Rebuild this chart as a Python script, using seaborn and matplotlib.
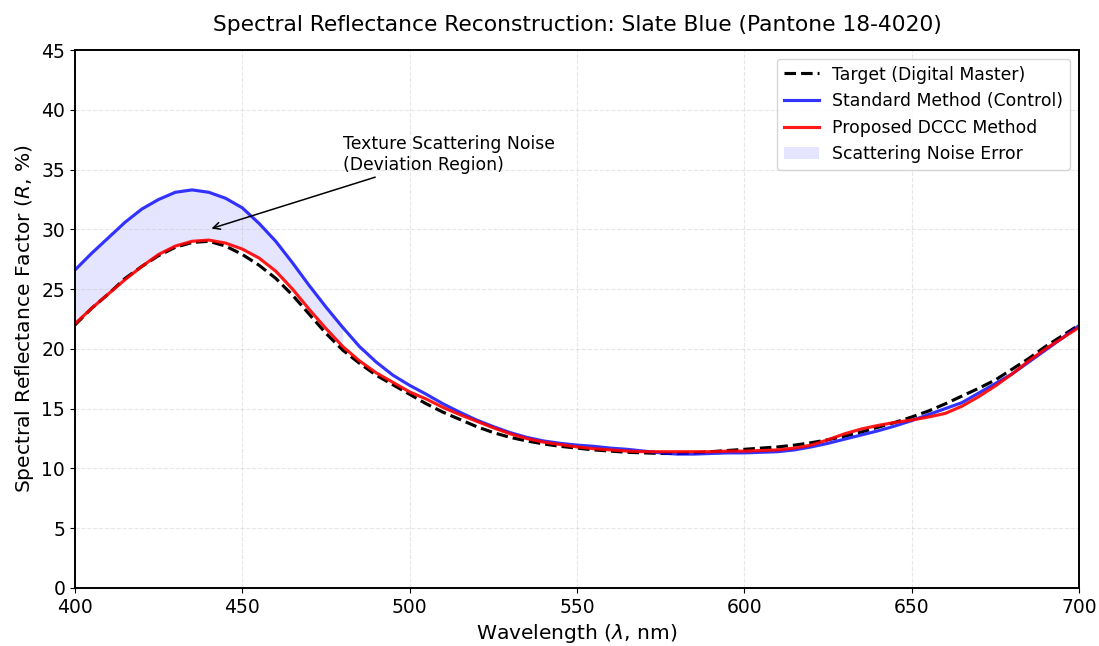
import matplotlib
matplotlib.use("Agg")
import matplotlib.pyplot as plt
import seaborn as sns
import numpy as np
import pandas as pd

# wavelengths every 5 nm
wavelength = list(range(400, 705, 5))

target = [22.0, 23.4, 24.6, 25.9, 26.9, 27.8, 28.5, 28.9, 29.0, 28.6,
          27.9, 27.0, 25.9, 24.5, 22.9, 21.3, 19.9, 18.8, 17.8, 17.0,
          16.2, 15.4, 14.7, 14.1, 13.5, 13.0, 12.6, 12.3, 12.05, 11.85,
          11.7, 11.55, 11.45, 11.35, 11.3, 11.25, 11.25, 11.3, 11.4, 11.5,
          11.6, 11.7, 11.8, 11.95, 12.15, 12.4, 12.7, 13.05, 13.45, 13.85,
          14.3, 14.8, 15.4, 16.05, 16.7, 17.4, 18.3, 19.2, 20.2, 21.1, 22.0]

standard = [26.6, 28.0, 29.3, 30.6, 31.7, 32.5, 33.1, 33.3, 33.1, 32.6,
            31.8, 30.5, 29.0, 27.2, 25.3, 23.5, 21.8, 20.2, 18.9, 17.8,
            16.95, 16.2, 15.4, 14.7, 14.05, 13.5, 13.0, 12.6, 12.3, 12.1,
            11.95, 11.85, 11.7, 11.6, 11.45, 11.3, 11.2, 11.2, 11.25, 11.3,
            11.3, 11.35, 11.4, 11.55, 11.8, 12.1, 12.45, 12.8, 13.15, 13.55,
            14.0, 14.5, 15.0, 15.5, 16.3, 17.1, 17.9, 18.9, 19.9, 20.9, 21.95]

proposed = [22.1, 23.4, 24.6, 25.8, 26.9, 27.9, 28.6, 29.0, 29.1, 28.85,
            28.35, 27.6, 26.5, 25.0, 23.3, 21.7, 20.2, 19.0, 18.0, 17.2,
            16.4, 15.8, 15.1, 14.5, 13.95, 13.4, 12.9, 12.5, 12.2, 12.0,
            11.8, 11.65, 11.55, 11.45, 11.4, 11.4, 11.4, 11.4, 11.4, 11.45,
            11.45, 11.5, 11.55, 11.7, 11.95, 12.4, 12.9, 13.3, 13.6, 13.85,
            14.05, 14.3, 14.6, 15.2, 16.0, 16.9, 17.9, 19.0, 20.0, 20.9, 21.8]

df = pd.DataFrame({"wl": wavelength, "target": target,
                   "standard": standard, "proposed": proposed})

fig, ax = plt.subplots(figsize=(10.99, 6.46), dpi=100)
fig.subplots_adjust(left=0.0682, right=0.9818, top=0.9226, bottom=0.0898)

sns.lineplot(data=df, x="wl", y="target", ax=ax, color="black",
             linestyle="--", linewidth=2.25, label="Target (Digital Master)")
sns.lineplot(data=df, x="wl", y="standard", ax=ax, color="blue", alpha=0.8,
             linewidth=2.25, label="Standard Method (Control)")
sns.lineplot(data=df, x="wl", y="proposed", ax=ax, color="red", alpha=0.9,
             linewidth=2.25, label="Proposed DCCC Method")

wl = np.array(wavelength)
ax.fill_between(wl, df["proposed"], df["standard"], where=wl <= 480,
                color="blue", alpha=0.1, linewidth=0, label="Scattering Noise Error")

ax.annotate("Texture Scattering Noise\n(Deviation Region)", xy=(440, 30),
            xytext=(480, 35), fontsize=12.4,
            arrowprops=dict(arrowstyle="->", color="black", lw=1.1))

ax.set_xlim(400, 700)
ax.set_ylim(0, 45)
ax.set_yticks(range(0, 50, 5))
ax.set_title("Spectral Reflectance Reconstruction: Slate Blue (Pantone 18-4020)",
             fontsize=15.7, pad=14)
ax.set_xlabel(r"Wavelength ($\lambda$, nm)", fontsize=14.6)
ax.set_ylabel(r"Spectral Reflectance Factor ($R$, %)", fontsize=14.6)
ax.tick_params(labelsize=13.5)
ax.grid(True, linestyle="--", alpha=0.3)
for s in ax.spines.values():
    s.set_linewidth(1.4)
ax.legend(loc="upper right", fontsize=12.4)

fig.savefig("out.png", dpi=100)
